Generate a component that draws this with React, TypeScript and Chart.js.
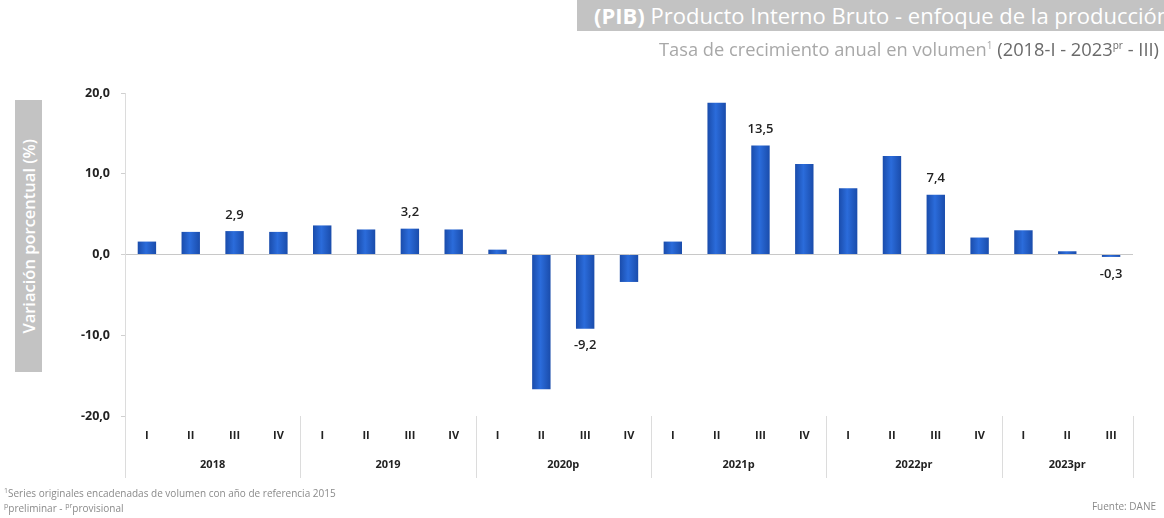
import React, { useEffect, useRef } from 'react';
import { Chart, registerables } from 'chart.js';

Chart.register(...registerables);

// ---- data ----
const quarters = ['I', 'II', 'III', 'IV', 'I', 'II', 'III', 'IV', 'I', 'II', 'III', 'IV', 'I', 'II', 'III', 'IV', 'I', 'II', 'III', 'IV', 'I', 'II', 'III'];
const years = ['2018', '2019', '2020p', '2021p', '2022pr', '2023pr'];
const quartersPerYear = [4, 4, 4, 4, 4, 3];
const growth = [1.6, 2.8, 2.9, 2.8, 3.6, 3.1, 3.2, 3.1, 0.6, -16.7, -9.2, -3.4, 1.6, 18.8, 13.5, 11.2, 8.2, 12.2, 7.4, 2.1, 3.0, 0.4, -0.3];
const labeledIndices = [2, 6, 10, 14, 18, 22];
const yMin = -20;
const yMax = 20;
const yStep = 10;

const FONT = "'Open Sans', 'Noto Sans', sans-serif";
const fmt = (v: number) => v.toFixed(1).replace('.', ',');

const yearGroupsPlugin = {
  id: 'yearGroups',
  afterDraw(chart: any) {
    const { ctx, chartArea, scales } = chart;
    const x = scales.x;
    const half = (x.getPixelForValue(1) - x.getPixelForValue(0)) / 2;
    const bottom = chartArea.bottom;
    const lineEnd = bottom + 62;
    ctx.save();
    ctx.strokeStyle = '#dcdcdc';
    ctx.lineWidth = 1;
    ctx.beginPath();
    ctx.moveTo(Math.round(chartArea.left) + 0.5, bottom);
    ctx.lineTo(Math.round(chartArea.left) + 0.5, lineEnd);
    ctx.stroke();
    ctx.fillStyle = '#222';
    ctx.font = `bold 11px ${FONT}`;
    ctx.textAlign = 'center';
    ctx.textBaseline = 'middle';
    let start = 0;
    years.forEach((yr, gi) => {
      const n = quartersPerYear[gi];
      const left = x.getPixelForValue(start) - half;
      const right = x.getPixelForValue(start + n - 1) + half;
      ctx.beginPath();
      ctx.moveTo(Math.round(right) + 0.5, bottom);
      ctx.lineTo(Math.round(right) + 0.5, lineEnd);
      ctx.stroke();
      ctx.fillText(yr, (left + right) / 2, bottom + 49);
      start += n;
    });
    ctx.restore();
  },
};

const valueLabelsPlugin = {
  id: 'valueLabels',
  afterDatasetsDraw(chart: any) {
    const { ctx } = chart;
    const meta = chart.getDatasetMeta(0);
    ctx.save();
    ctx.fillStyle = '#222';
    ctx.font = `600 13px ${FONT}`;
    ctx.textAlign = 'center';
    ctx.textBaseline = 'middle';
    labeledIndices.forEach((i) => {
      const el = meta.data[i];
      const v = growth[i];
      const y = v >= 0 ? el.y - 16 : el.y + 17;
      ctx.fillText(fmt(v), el.x, y);
    });
    ctx.restore();
  },
};

export default function App() {
  const canvasRef = useRef<HTMLCanvasElement | null>(null);

  useEffect(() => {
    if (!canvasRef.current) return;
    const chart = new Chart(canvasRef.current, {
      type: 'bar',
      data: {
        labels: quarters,
        datasets: [
          {
            data: growth,
            backgroundColor: (c: any) => {
              const ch = c.chart;
              const xs = ch.scales && ch.scales.x;
              if (!ch.chartArea || !xs || c.dataIndex === undefined) return '#1f5cc4';
              const cx = xs.getPixelForValue(c.dataIndex);
              const w = (xs.width / quarters.length) * 0.42;
              const g = ch.ctx.createLinearGradient(cx - w / 2, 0, cx + w / 2, 0);
              g.addColorStop(0, '#1a4cab');
              g.addColorStop(0.45, '#2b6cdb');
              g.addColorStop(1, '#1a4cab');
              return g;
            },
            borderWidth: 0,
            barPercentage: 0.42,
            categoryPercentage: 1,
          },
        ],
      },
      options: {
        animation: false,
        responsive: false,
        maintainAspectRatio: false,
        layout: { padding: { left: 0, top: 93, right: 31, bottom: 0 } },
        plugins: {
          legend: { display: false },
          title: { display: false },
          tooltip: { enabled: false },
        },
        scales: {
          x: {
            offset: true,
            grid: { display: false, drawTicks: false },
            border: { display: false },
            ticks: {
              color: '#222',
              font: { family: FONT, size: 11, weight: 'bold' },
              padding: 13,
              maxRotation: 0,
              autoSkip: false,
            },
            afterFit: (s: any) => {
              s.height = 102;
            },
          },
          y: {
            min: yMin,
            max: yMax,
            grid: {
              color: (c: any) => (c.tick && c.tick.value === 0 ? '#c8c8c8' : 'transparent'),
              tickColor: '#d0d0d0',
              tickLength: 4,
            },
            border: { display: true, color: '#dcdcdc' },
            ticks: {
              stepSize: yStep,
              color: '#222',
              font: { family: FONT, size: 12.5, weight: 'bold' },
              padding: 11,
              callback: (v: any) => fmt(Number(v)),
            },
            afterFit: (s: any) => {
              s.width = 125;
            },
          },
        },
      },
      plugins: [yearGroupsPlugin, valueLabelsPlugin],
    });
    return () => chart.destroy();
  }, []);

  return (
    <div
      style={{
        position: 'fixed',
        left: 0,
        top: 0,
        width: 1164,
        height: 518,
        background: '#fff',
        overflow: 'hidden',
        fontFamily: FONT,
      }}
    >
      <canvas ref={canvasRef} width={1164} height={518} style={{ position: 'absolute', left: 0, top: 0, width: 1164, height: 518 }} />
      <div
        style={{
          position: 'absolute',
          left: 577,
          top: 0,
          width: 587,
          height: 31,
          background: '#c3c3c3',
          color: '#fff',
          fontWeight: 400,
          fontSize: 22,
          lineHeight: '31px',
          paddingLeft: 17,
          whiteSpace: 'nowrap',
          overflow: 'hidden',
          boxSizing: 'border-box',
        }}
      >
        <span style={{ fontWeight: 700 }}>(PIB)</span> Producto Interno Bruto - enfoque de la producción
      </div>
      <div
        style={{
          position: 'absolute',
          right: 5,
          top: 32,
          fontSize: 18.3,
          lineHeight: '26px',
          whiteSpace: 'nowrap',
          color: '#a8a8a8',
        }}
      >
        Tasa de crecimiento anual en volumen<sup style={{ fontSize: 10 }}>1</sup>
        <span style={{ color: '#6a6a6a' }}>
          {' '}(2018-I - 2023<sup style={{ fontSize: 10 }}>pr</sup> - III)
        </span>
      </div>
      <div
        style={{
          position: 'absolute',
          left: 15,
          top: 100,
          width: 27,
          height: 272,
          background: '#c3c3c3',
          color: '#fff',
          display: 'flex',
          alignItems: 'center',
          justifyContent: 'center',
        }}
      >
        <div
          style={{
            writingMode: 'vertical-rl',
            transform: 'rotate(180deg)',
            fontSize: 16.5,
            fontWeight: 600,
            whiteSpace: 'nowrap',
          }}
        >
          Variación porcentual (%)
        </div>
      </div>
      <div style={{ position: 'absolute', left: 4, top: 484, fontSize: 10, color: '#8a8a8a', whiteSpace: 'nowrap', lineHeight: '14px' }}>
        <sup style={{ fontSize: 7 }}>1</sup>Series originales encadenadas de volumen con año de referencia 2015
      </div>
      <div style={{ position: 'absolute', left: 4, top: 499, fontSize: 10, color: '#8a8a8a', whiteSpace: 'nowrap', lineHeight: '14px' }}>
        <sup style={{ fontSize: 7 }}>p</sup>preliminar - <sup style={{ fontSize: 7 }}>pr</sup>provisional
      </div>
      <div style={{ position: 'absolute', right: 8, top: 499, fontSize: 10, color: '#8a8a8a', whiteSpace: 'nowrap', lineHeight: '14px' }}>
        Fuente: DANE
      </div>
    </div>
  );
}
